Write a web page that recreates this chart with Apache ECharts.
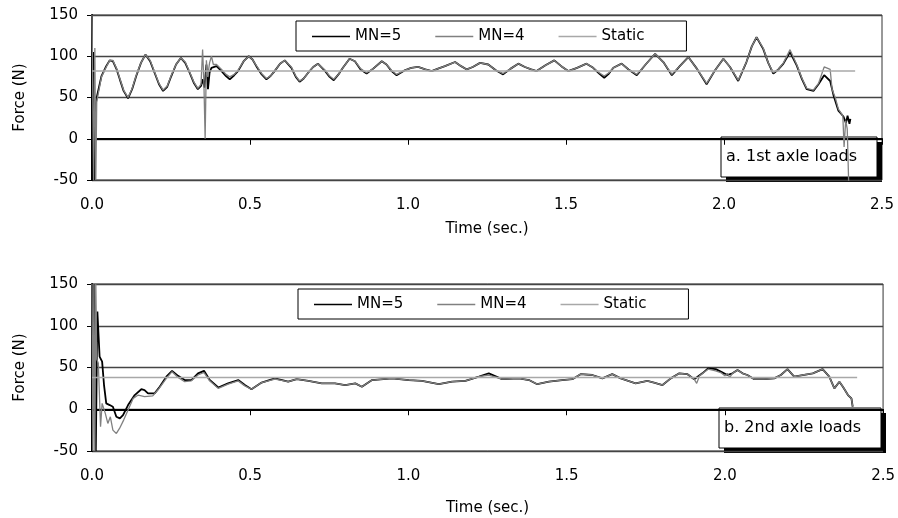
<!DOCTYPE html>
<html lang="en">
<head>
  <meta charset="UTF-8">
  <title>Axle loads</title>
  <script src="https://cdn.jsdelivr.net/npm/echarts@6/dist/echarts.min.js"></script>
  <style>
    body { margin: 0; background: #fff; }
    #chart { width: 898px; height: 518px; }
  </style>
</head>
<body>
  <div id="chart"></div>
  <script>
    // series names
    var names = ['MN=5', 'MN=4', 'Static'];

    // a. 1st axle loads  [time (s), force (N)]
    var mn5Top = [
      [0, -50], [0.004, 105], [0.008, -50], [0.012, 42], [0.016, 52], [0.03, 76], [0.045, 88], [0.056, 95], [0.066, 94],
      [0.078, 84], [0.088, 72], [0.1, 58], [0.114, 49], [0.127, 60], [0.14, 76], [0.155, 92], [0.169, 102],
      [0.184, 94], [0.198, 80], [0.212, 66], [0.225, 58], [0.238, 63], [0.251, 76], [0.266, 90], [0.281, 98],
      [0.295, 92], [0.309, 80], [0.322, 68], [0.335, 60], [0.345, 64], [0.351, 72], [0.356, 62], [0.362, 90],
      [0.367, 60], [0.372, 80], [0.378, 86], [0.394, 88], [0.41, 82], [0.424, 76], [0.436, 72], [0.45, 77],
      [0.462, 82], [0.48, 94], [0.496, 100], [0.508, 96], [0.52, 88], [0.537, 78], [0.552, 72], [0.565, 76],
      [0.578, 82], [0.595, 91], [0.61, 95], [0.631, 86], [0.645, 75], [0.657, 69], [0.67, 73], [0.684, 80],
      [0.7, 87], [0.715, 91], [0.738, 82], [0.752, 75], [0.765, 71], [0.78, 78], [0.794, 86], [0.815, 97],
      [0.832, 94], [0.85, 84], [0.869, 79], [0.89, 85], [0.917, 94], [0.932, 90], [0.948, 82], [0.964, 77],
      [0.99, 83], [1.01, 86], [1.032, 87], [1.055, 84], [1.075, 82], [1.095, 85], [1.117, 88], [1.149, 93],
      [1.168, 88], [1.186, 84], [1.205, 87], [1.228, 92], [1.254, 90], [1.278, 83], [1.301, 78], [1.325, 85],
      [1.349, 91], [1.37, 87], [1.39, 84], [1.407, 82], [1.435, 89], [1.463, 95], [1.485, 88], [1.507, 82],
      [1.535, 86], [1.565, 91], [1.586, 86], [1.605, 79], [1.621, 74], [1.636, 79], [1.65, 86], [1.676, 91],
      [1.698, 84], [1.724, 77], [1.752, 90], [1.782, 103], [1.808, 93], [1.835, 77], [1.86, 88], [1.887, 99],
      [1.914, 85], [1.945, 66], [1.97, 82], [1.998, 97], [2.019, 87], [2.045, 70], [2.071, 93], [2.088, 112],
      [2.103, 123], [2.124, 109], [2.14, 92], [2.156, 79], [2.172, 84], [2.188, 91], [2.209, 105], [2.23, 89],
      [2.247, 72], [2.262, 60], [2.283, 58], [2.299, 66], [2.317, 77], [2.336, 70], [2.347, 52], [2.362, 34],
      [2.378, 27], [2.386, 19], [2.391, 28], [2.397, 18], [2.4, 24]
    ];
    var mn4Top = [
      [0, 150], [0.005, -50], [0.009, 110], [0.012, -50], [0.015, 45], [0.03, 75], [0.045, 87], [0.056, 95], [0.066, 95],
      [0.078, 85], [0.088, 73], [0.1, 59], [0.114, 50], [0.127, 61], [0.14, 77], [0.155, 92], [0.169, 102],
      [0.184, 95], [0.198, 81], [0.212, 67], [0.225, 59], [0.238, 64], [0.251, 77], [0.266, 90], [0.281, 98],
      [0.295, 93], [0.309, 81], [0.322, 69], [0.335, 61], [0.345, 66], [0.35, 108], [0.354, 70], [0.358, 0],
      [0.362, 95], [0.366, 75], [0.372, 92], [0.378, 100], [0.384, 90], [0.394, 90], [0.41, 84], [0.424, 78],
      [0.436, 75], [0.45, 78], [0.462, 83], [0.48, 94], [0.496, 100], [0.508, 96], [0.52, 89], [0.537, 79],
      [0.552, 73], [0.565, 76], [0.578, 82], [0.595, 91], [0.61, 95], [0.631, 87], [0.645, 76], [0.657, 70],
      [0.67, 73], [0.684, 80], [0.7, 87], [0.715, 91], [0.738, 83], [0.752, 76], [0.765, 72], [0.78, 78],
      [0.794, 86], [0.815, 97], [0.832, 94], [0.85, 85], [0.869, 80], [0.89, 85], [0.917, 94], [0.932, 90],
      [0.948, 83], [0.964, 78], [0.99, 83], [1.01, 86], [1.032, 87], [1.055, 84], [1.075, 82], [1.095, 85],
      [1.117, 88], [1.149, 93], [1.168, 88], [1.186, 84], [1.205, 87], [1.228, 92], [1.254, 90], [1.278, 83],
      [1.301, 79], [1.325, 85], [1.349, 91], [1.37, 87], [1.39, 84], [1.407, 82], [1.435, 89], [1.463, 95],
      [1.485, 88], [1.507, 82], [1.535, 86], [1.565, 91], [1.586, 86], [1.605, 80], [1.621, 76], [1.636, 80],
      [1.65, 86], [1.676, 91], [1.698, 84], [1.724, 78], [1.752, 90], [1.782, 103], [1.808, 93], [1.835, 78],
      [1.86, 88], [1.887, 99], [1.914, 85], [1.945, 67], [1.97, 82], [1.998, 97], [2.019, 87], [2.045, 71],
      [2.071, 93], [2.088, 112], [2.103, 123], [2.124, 110], [2.14, 92], [2.156, 80], [2.172, 84], [2.188, 92],
      [2.209, 108], [2.23, 90], [2.247, 73], [2.262, 61], [2.283, 59], [2.299, 67], [2.317, 87], [2.336, 84],
      [2.342, 60], [2.352, 50], [2.362, 36], [2.376, 28], [2.38, -10], [2.385, 22], [2.39, 12], [2.395, -60]
    ];
    var staticTop = [[0, 82], [2.415, 82]];

    // b. 2nd axle loads
    var mn5Bot = [
      [0, -50], [0.006, 150], [0.012, -50], [0.017, 117], [0.024, 63], [0.032, 57], [0.038, 29], [0.045, 7],
      [0.056, 5], [0.066, 3], [0.077, -9], [0.088, -11], [0.098, -7], [0.114, 5], [0.135, 17], [0.156, 24],
      [0.166, 23], [0.177, 19], [0.198, 19], [0.214, 27], [0.235, 39], [0.253, 46], [0.272, 40], [0.293, 35],
      [0.314, 35], [0.335, 43], [0.354, 46], [0.372, 35], [0.399, 26], [0.43, 31], [0.462, 35], [0.483, 29],
      [0.504, 24], [0.536, 32], [0.578, 37], [0.62, 33], [0.647, 36], [0.684, 34], [0.726, 31], [0.768, 31],
      [0.8, 29], [0.832, 31], [0.853, 27], [0.885, 35], [0.948, 37], [1.001, 35], [1.043, 34], [1.096, 30],
      [1.138, 33], [1.18, 34], [1.223, 39], [1.254, 43], [1.296, 36], [1.349, 37], [1.381, 35], [1.407, 30],
      [1.444, 33], [1.486, 35], [1.518, 36], [1.544, 42], [1.581, 41], [1.613, 37], [1.644, 42], [1.671, 37],
      [1.718, 31], [1.755, 34], [1.776, 32], [1.803, 29], [1.829, 37], [1.856, 43], [1.882, 42], [1.903, 36],
      [1.929, 43], [1.947, 49], [1.971, 48], [1.987, 45], [2.008, 41], [2.024, 43], [2.04, 47], [2.056, 43],
      [2.071, 41], [2.093, 36], [2.124, 36], [2.156, 37], [2.177, 41], [2.198, 48], [2.219, 39], [2.246, 41],
      [2.278, 43], [2.309, 48], [2.33, 39], [2.346, 25], [2.362, 33], [2.373, 27], [2.389, 17], [2.4, 13],
      [2.404, 3]
    ];
    var mn4Bot = [
      [0, 150], [0.003, -50], [0.006, 150], [0.009, -50], [0.012, 150], [0.015, 60], [0.02, 55], [0.027, -21],
      [0.032, 7], [0.042, -5], [0.05, -17], [0.058, -9], [0.066, -25], [0.077, -29], [0.087, -23], [0.1, -13],
      [0.114, -1], [0.13, 13], [0.146, 17], [0.166, 15], [0.192, 16], [0.208, 23], [0.235, 37], [0.253, 45],
      [0.272, 38], [0.293, 33], [0.314, 34], [0.335, 41], [0.354, 44], [0.372, 34], [0.399, 25], [0.43, 30],
      [0.462, 34], [0.483, 28], [0.504, 24], [0.536, 32], [0.578, 36], [0.62, 33], [0.647, 36], [0.684, 34],
      [0.726, 31], [0.768, 31], [0.8, 29], [0.832, 31], [0.853, 27], [0.885, 35], [0.948, 37], [1.001, 35],
      [1.043, 34], [1.096, 30], [1.138, 33], [1.18, 34], [1.223, 39], [1.254, 41], [1.296, 36], [1.349, 37],
      [1.381, 35], [1.407, 30], [1.444, 33], [1.486, 35], [1.518, 36], [1.544, 42], [1.581, 41], [1.613, 37],
      [1.644, 42], [1.671, 37], [1.718, 31], [1.755, 34], [1.776, 32], [1.803, 29], [1.829, 37], [1.856, 43],
      [1.882, 42], [1.903, 36], [1.911, 31], [1.92, 40], [1.947, 48], [1.971, 46], [1.987, 44], [2.0, 40],
      [2.008, 43], [2.015, 38], [2.024, 43], [2.04, 47], [2.056, 43], [2.071, 41], [2.093, 36], [2.124, 36],
      [2.156, 37], [2.177, 41], [2.198, 48], [2.219, 39], [2.246, 41], [2.278, 43], [2.309, 48], [2.33, 39],
      [2.346, 25], [2.362, 33], [2.373, 27], [2.389, 17], [2.4, 13], [2.404, 3]
    ];
    var staticBot = [[0, 38], [2.418, 38]];

    var labels = ['a. 1st axle loads', 'b. 2nd axle loads'];

    var chart = echarts.init(document.getElementById('chart'));
    var font = 'DejaVu Sans';

    function xAxisFor(i, gap) {
      return {
        gridIndex: i, type: 'value', min: 0, max: 2.5, interval: 0.5,
        name: 'Time (sec.)', nameLocation: 'middle', nameGap: gap,
        nameTextStyle: { color: '#000', fontSize: 15, fontFamily: font },
        axisLine: { lineStyle: { color: '#000', width: 2 } },
        axisTick: { length: 6, lineStyle: { color: '#000', width: 1 } },
        axisLabel: { color: '#000', fontSize: 15, fontFamily: font, margin: 18,
          formatter: function (v) { return v.toFixed(1); } },
        splitLine: { show: false }
      };
    }
    function yAxisFor(i) {
      return {
        gridIndex: i, type: 'value', min: -50, max: 150, interval: 50,
        name: 'Force (N)', nameLocation: 'middle', nameGap: 64,
        nameTextStyle: { color: '#000', fontSize: 15, fontFamily: font },
        axisLine: { show: true, lineStyle: { color: '#000', width: 2 } },
        axisTick: { show: true, length: 5, lineStyle: { color: '#000', width: 1 } },
        axisLabel: { color: '#000', fontSize: 15, fontFamily: font, margin: 14 },
        splitLine: { lineStyle: { color: '#444', width: 1.3 } }
      };
    }
    function lineSeries(name, data, i, color, w) {
      return {
        name: name, type: 'line', data: data, xAxisIndex: i, yAxisIndex: i,
        showSymbol: false, symbol: 'none', animation: false,
        lineStyle: { color: color, width: w }, itemStyle: { color: color }
      };
    }
    function legendFor(left, top) {
      return {
        data: names, left: left, top: top, orient: 'horizontal',
        icon: 'rect', itemWidth: 38, itemHeight: 1.5, itemGap: 34,
        backgroundColor: '#fff', borderColor: '#000', borderWidth: 1, borderRadius: 0,
        padding: [8, 42, 7, 16],
        textStyle: { color: '#000', fontSize: 15, fontFamily: font }
      };
    }
    function noteBox(x, y, w, h, text) {
      return {
        type: 'group', z: 100,
        children: [
          { type: 'rect', shape: { x: x + 5, y: y + 5, width: w, height: h }, style: { fill: '#000' } },
          { type: 'rect', shape: { x: x, y: y, width: w, height: h }, style: { fill: '#fff', stroke: '#000', lineWidth: 1 } },
          { type: 'text', x: x + 5, y: y + h / 2, style: { text: text, fill: '#000', font: '16px "DejaVu Sans"', verticalAlign: 'middle' } }
        ]
      };
    }

    var option = {
      backgroundColor: '#fff',
      animation: false,
      grid: [
        { left: 92, top: 15, width: 790, height: 165, show: true, borderColor: '#333', borderWidth: 1 },
        { left: 92, top: 284, width: 792, height: 167, show: true, borderColor: '#333', borderWidth: 1 }
      ],
      legend: [legendFor(296, 21), legendFor(298, 289)],
      xAxis: [xAxisFor(0, 42), xAxisFor(1, 50)],
      yAxis: [yAxisFor(0), yAxisFor(1)],
      series: [
        lineSeries('MN=5', mn5Top, 0, '#000', 1.8),
        lineSeries('MN=4', mn4Top, 0, '#808080', 1.3),
        lineSeries('Static', staticTop, 0, '#a8a8a8', 1.5),
        lineSeries('MN=5', mn5Bot, 1, '#000', 1.8),
        lineSeries('MN=4', mn4Bot, 1, '#808080', 1.3),
        lineSeries('Static', staticBot, 1, '#a8a8a8', 1.5)
      ],
      graphic: [
        noteBox(721, 137, 156, 40, labels[0]),
        noteBox(719, 408, 162, 40, labels[1])
      ]
    };
    chart.setOption(option);
  </script>
</body>
</html>
